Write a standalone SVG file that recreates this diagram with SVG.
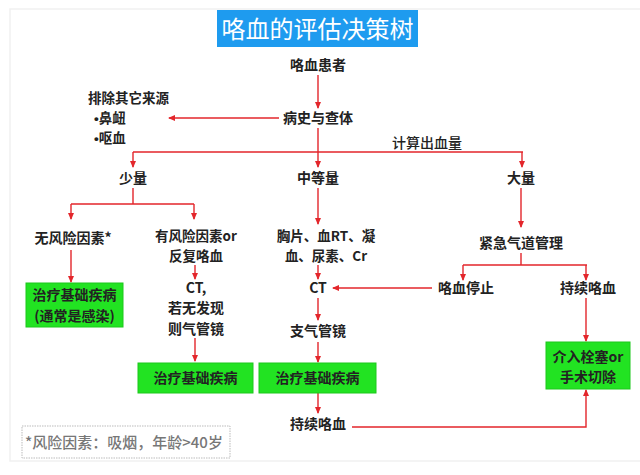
<svg xmlns="http://www.w3.org/2000/svg" width="640" height="475" viewBox="0 0 640 475">
<defs>
<marker id="ah" markerWidth="7" markerHeight="7" refX="6" refY="3.5" orient="auto" markerUnits="userSpaceOnUse">
<path d="M0,0.5 L7,3.5 L0,6.5 z" fill="#E3262B"/>
</marker>
<style>
.t{font-family:"Noto Sans CJK SC","Noto Sans",sans-serif;font-size:14px;font-weight:bold;fill:#222;text-anchor:middle}
.s{font-size:13.5px}
.l{text-anchor:start}
.b{font-family:"Liberation Sans",sans-serif}
.g{fill:#22E322;stroke:#1CC81C;stroke-width:1}
.c{fill:none;stroke:#E3262B;stroke-width:1.4}
.a{marker-end:url(#ah)}
</style>
</defs>
<rect x="0" y="0" width="640" height="475" fill="#fff"/>
<rect x="10" y="9" width="640" height="452" fill="none" stroke="#f1f1f1" stroke-width="1.5"/>
<g id="title">
<rect x="217" y="10" width="201" height="37" fill="#1E9BEF"/>
<text x="317.5" y="37.5" class="t" style="font-size:24px;font-weight:normal;fill:#fff">咯血的评估决策树</text>
</g>
<g id="connectors">
<path class="c a" d="M318,75 V108"/>
<path class="c a" d="M279,118 H169"/>
<path class="c" d="M318,128 V152 M133,152 H523"/>
<path class="c a" d="M133,152 V167"/>
<path class="c a" d="M318,152 V167"/>
<path class="c a" d="M522,152 V167"/>
<path class="c" d="M133,188 V204 M71,204 H194"/>
<path class="c a" d="M71,204 V219"/>
<path class="c a" d="M194,204 V219"/>
<path class="c a" d="M71,250 V282"/>
<path class="c a" d="M195,265 V279"/>
<path class="c a" d="M195,338 V361"/>
<path class="c a" d="M318,188 V224"/>
<path class="c a" d="M318,265 V279"/>
<path class="c a" d="M432,288 H333"/>
<path class="c a" d="M318,298 V320"/>
<path class="c a" d="M318,342 V362"/>
<path class="c a" d="M318,393 V413"/>
<path class="c a" d="M352,427 H586 V390"/>
<path class="c a" d="M521,188 V227"/>
<path class="c" d="M521,253 V265 M463,265 H587"/>
<path class="c a" d="M463,265 V280"/>
<path class="c a" d="M586,265 V280"/>
<path class="c a" d="M586,298 V341"/>
</g>
<g id="n-patient"><text x="318" y="70" class="t">咯血患者</text></g>
<g id="n-history"><text x="318" y="123" class="t">病史与查体</text></g>
<g id="n-exclude">
<text x="88" y="103" class="t s l">排除其它来源</text>
<text x="94" y="123" class="t s l"><tspan class="b">•</tspan>鼻衄</text>
<text x="94" y="143" class="t s l"><tspan class="b">•</tspan>呕血</text>
</g>
<g id="n-calc"><text x="427" y="148" class="t" style="font-weight:500">计算出血量</text></g>
<g id="n-small"><text x="133" y="183" class="t">少量</text></g>
<g id="n-medium"><text x="318" y="183" class="t">中等量</text></g>
<g id="n-large"><text x="521" y="183" class="t">大量</text></g>
<g id="n-norisk"><text x="73" y="243" class="t">无风险因素*</text></g>
<g id="n-risk">
<text x="196" y="241" class="t s">有风险因素or</text>
<text x="196" y="261" class="t s">反复咯血</text>
</g>
<g id="n-tests">
<text x="326" y="241" class="t s">胸片、血RT、凝</text>
<text x="326" y="261" class="t s">血、尿素、Cr</text>
</g>
<g id="n-airway"><text x="521" y="248" class="t">紧急气道管理</text></g>
<g id="n-ct1">
<text x="196" y="293" class="t">CT,</text>
<text x="196" y="313" class="t">若无发现</text>
<text x="196" y="334" class="t">则气管镜</text>
</g>
<g id="n-ct2"><text x="318" y="293" class="t">CT</text></g>
<g id="n-stop"><text x="466" y="293" class="t">咯血停止</text></g>
<g id="n-cont1"><text x="588" y="293" class="t">持续咯血</text></g>
<g id="n-broncho"><text x="318" y="336" class="t">支气管镜</text></g>
<g id="n-treat1">
<rect x="26" y="283" width="97" height="44" class="g"/>
<text x="74.5" y="300" class="t">治疗基础疾病</text>
<text x="74.5" y="321" class="t">(通常是感染)</text>
</g>
<g id="n-treat2">
<rect x="138" y="363" width="115" height="30" class="g"/>
<text x="195.5" y="383" class="t">治疗基础疾病</text>
</g>
<g id="n-treat3">
<rect x="259" y="363" width="117" height="30" class="g"/>
<text x="317.5" y="383" class="t">治疗基础疾病</text>
</g>
<g id="n-interv">
<rect x="546" y="342" width="84" height="47" class="g"/>
<text x="588" y="362" class="t">介入栓塞or</text>
<text x="588" y="382" class="t">手术切除</text>
</g>
<g id="n-cont2"><text x="318" y="429" class="t">持续咯血</text></g>
<g id="n-note">
<rect x="22" y="426" width="208" height="32" fill="#fff" stroke="#bbb" stroke-width="1" stroke-dasharray="1.5,1"/>
<text x="25" y="448" class="t l" style="font-size:15px;font-weight:500;fill:#777">*风险因素：吸烟，年龄&gt;40岁</text>
</g>
</svg>
